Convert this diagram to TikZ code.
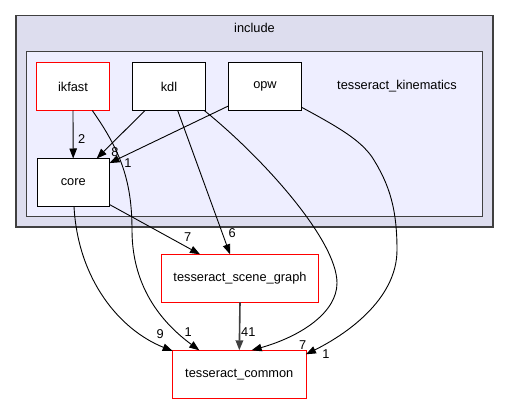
\documentclass[tikz,border=0pt]{standalone}
\usepackage{fontspec}
\setmainfont{Liberation Sans}
\usetikzlibrary{arrows.meta}
\definecolor{outerfill}{HTML}{DDDDEE}
\definecolor{innerfill}{HTML}{EEEEFF}
\definecolor{clborder}{HTML}{404040}
\begin{document}
\begin{tikzpicture}[x=1pt,y=-1pt,
  every node/.style={font=\fontsize{12.8}{14}\selectfont, inner sep=0pt, outer sep=0pt},
  dirbox/.style={draw=black, fill=white, line width=0.9pt, minimum width=72.5pt, minimum height=48pt},
  redbox/.style={draw=red, fill=white, line width=0.9pt},
  dep/.style={line width=0.9pt, -{Triangle[length=10pt,width=7.5pt]}},
  heavydep/.style={draw=clborder, line width=1.6pt, -{Triangle[length=10pt,width=7.5pt]}},
  lbl/.style={}
]
\useasboundingbox (0,0) rectangle (509,404);
% clusters
\draw[fill=outerfill, draw=clborder, line width=1.5pt] (16,15.5) rectangle (493,227);
\node (incl) at (254.5,27.5) {include};
\draw[fill=innerfill, draw=clborder, line width=1pt] (26.7,51.7) rectangle (482.7,216.7);
\node (tk) at (397,86.5) {tesseract\_kinematics};
% nodes
\node[dirbox, redbox] (ikfast) at (73,86.5) {ikfast};
\node[dirbox] (kdl) at (169,86.5) {kdl};
\node[dirbox] (opw) at (265,86.5) {opw};
\node[dirbox] (core) at (73.2,182.5) {core};
\node[redbox, minimum width=157.4pt, minimum height=48pt] (sg) at (240,278.3) {tesseract\_scene\_graph};
\node[redbox, minimum width=133.3pt, minimum height=48.4pt] (common) at (239.3,374.5) {tesseract\_common};
% edges
\draw[dep] (ikfast.south) -- (core.north);
\draw[dep] ([xshift=19.3pt]ikfast.south) .. controls (120,150) and (132,180) .. (132,230)
  .. controls (132,290) and (165,325) .. ([xshift=-40pt]common.north);
\draw[dep] ([xshift=-24pt]kdl.south) -- ([xshift=23.5pt]core.north);
\draw[dep] ([yshift=4.7pt]opw.south west) -- ([yshift=-4.6pt]core.north east);
\draw[dep] ([xshift=8.7pt]kdl.south) -- ([xshift=-10pt]sg.north);
\draw[dep] ([xshift=-1pt]kdl.south east) .. controls (262,157) and (337,240) .. (337,283)
  .. controls (337,312) and (302,336) .. ([xshift=-54.3pt]common.north east);
\draw[dep] ([yshift=3.4pt]opw.south east) .. controls (340,128) and (360,140) .. (372,157)
  .. controls (390,185) and (397,210) .. (397,250)
  .. controls (397,300) and (345,335) .. ([yshift=-4pt]common.north east);
\draw[dep] ([yshift=2pt]core.south east) -- ([xshift=-40pt]sg.north);
\draw[dep] ([xshift=0.8pt]core.south) .. controls (78,280) and (120,330) .. ([yshift=-0.7pt]common.north west);
\draw[heavydep] (sg.south) -- (common.north);
% labels
\node[lbl] (l2) at (81.7,139.3) {2};
\node[lbl] (l8) at (115,151.7) {8};
\node[lbl] (l1a) at (128,163.3) {1};
\node[lbl] (l7a) at (187.7,237.3) {7};
\node[lbl] (l6) at (232.3,233.3) {6};
\node[lbl] (l9) at (160.3,334.3) {9};
\node[lbl] (l1b) at (188.3,332.3) {1};
\node[lbl] (l41) at (248.3,332.3) {41};
\node[lbl] (l7b) at (302.7,345) {7};
\node[lbl] (l1c) at (326,354) {1};
\end{tikzpicture}
\end{document}
